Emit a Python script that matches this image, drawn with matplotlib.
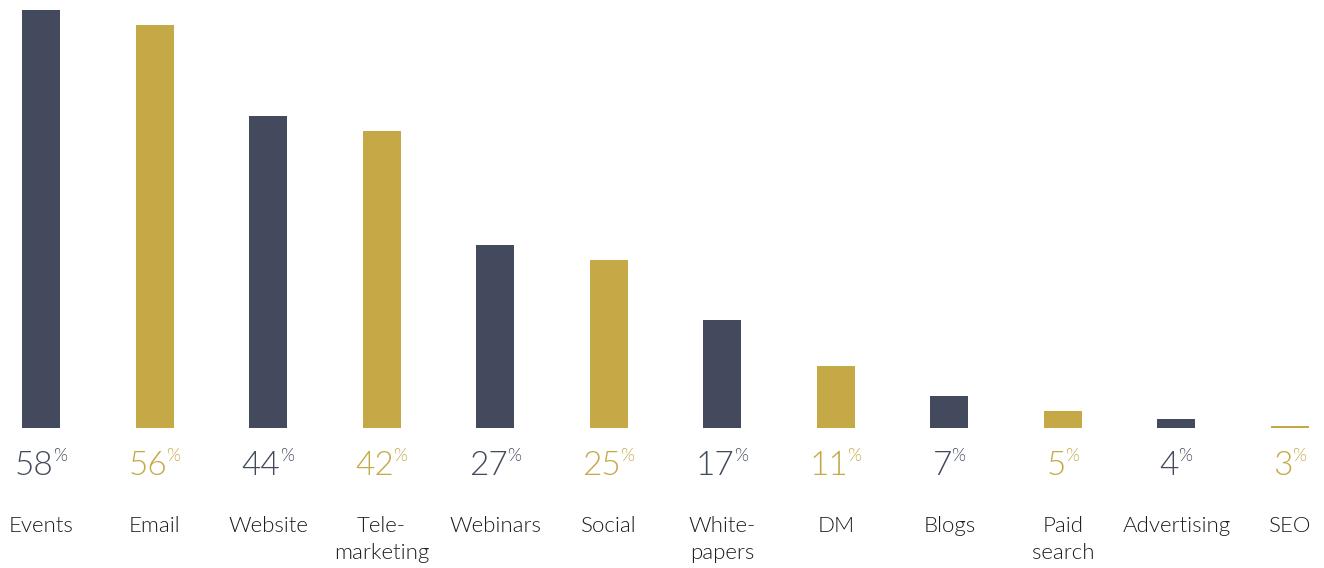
import numpy as np
import matplotlib.pyplot as plt

channels = ["Events", "Email", "Website", "Tele-\nmarketing", "Webinars", "Social",
            "White-\npapers", "DM", "Blogs", "Paid\nsearch", "Advertising", "SEO"]
shares = [58, 56, 44, 42, 27, 25, 17, 11, 7, 5, 4, 3]

navy = "#434a5d"
gold = "#c4a946"
colors = [navy if i % 2 == 0 else gold for i in range(len(shares))]

plt.rcParams['font.family'] = ['Lato', 'DejaVu Sans']

fig = plt.figure(figsize=(13.24, 5.68), dpi=100)
ax = fig.add_axes([0, 140 / 568, 1, 428 / 568])

x = np.arange(len(shares))
ax.bar(x, shares, width=0.335, color=colors)

# baseline sits a little above zero so the small values stay visible
ax.set_xlim(-0.361, 11.30)
ax.set_ylim(2.77, 59.31)
ax.axis('off')

for i, v in enumerate(shares):
    num = ax.annotate(str(v), xy=(i, 2.77), xytext=(-5, -34),
                      textcoords='offset points', ha='center', va='baseline',
                      fontsize=24, fontweight=300, color=colors[i],
                      annotation_clip=False)
    ax.annotate('%', xy=(1, 1), xycoords=num, xytext=(-0.5, 2.5),
                textcoords='offset points', ha='left', va='top',
                fontsize=13, fontweight=300, color=colors[i])
    ax.annotate(channels[i], xy=(i, 2.77), xytext=(0, -63.5),
                textcoords='offset points', ha='center', va='top',
                fontsize=16, fontweight=300, color='#1c1c1c',
                linespacing=1.4, annotation_clip=False)

fig.savefig('out.png', dpi=100)
